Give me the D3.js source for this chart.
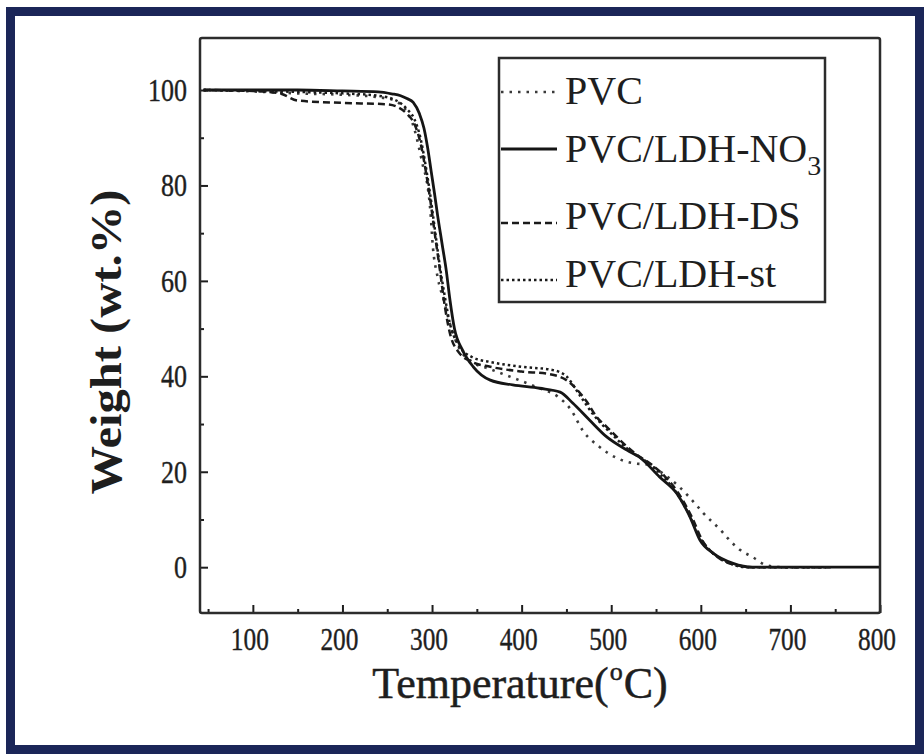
<!DOCTYPE html>
<html><head><meta charset="utf-8">
<script src="https://cdn.jsdelivr.net/npm/d3@7"></script>
<style>body{margin:0;background:#fff}svg{display:block}</style>
</head><body>
<svg id="c" width="924" height="754"></svg>
<script>
// ---- data ----
const xTicks = [100, 200, 300, 400, 500, 600, 700, 800];
const xMinor = [50, 150, 250, 350, 450, 550, 650, 750];
const yTicks = [0, 20, 40, 60, 80, 100];
const yMinor = [10, 30, 50, 70, 90];

const pvcTemp   = [45, 100, 150, 200, 240, 258, 266, 273, 280, 286, 290, 294, 298, 301, 306, 314, 320, 330, 345, 365, 400, 420, 440, 455, 468, 487, 506, 524, 540, 555, 575, 597, 603, 622, 630, 644, 658, 672, 690, 740];
const pvcWeight = [100, 99.7, 99.3, 99, 98.5, 97.8, 96.8, 95.2, 92, 87.4, 84, 81, 75, 67, 61, 55.3, 51, 46, 43, 41.5, 39, 37.5, 35.8, 33, 28.7, 25.2, 22.9, 21.8, 21.5, 20, 17, 12.6, 11.3, 7.8, 6.1, 3.6, 2.1, 0.5, 0, 0];

const no3Temp   = [45, 100, 150, 200, 240, 255, 265, 272, 279, 286, 291, 295, 299, 303, 306, 311, 316, 320, 325, 334, 346, 365, 390, 420, 443, 457, 476, 495, 518, 532, 554, 573, 588, 599, 614, 636, 658, 700, 800];
const no3Weight = [100, 100, 100, 99.8, 99.6, 99.2, 98.8, 98.2, 97.4, 95, 92, 88, 83, 78, 74, 68, 62, 56, 50, 45.5, 42, 39.2, 38.2, 37.5, 36.7, 34.4, 30.8, 27.3, 24.5, 23, 18.9, 15.5, 10.5, 5.7, 2.9, 0.8, 0, 0, 0];

const dsTemp   = [45, 100, 130, 150, 200, 250, 262, 272, 280, 287, 293, 298, 303, 309, 314, 320, 330, 345, 365, 400, 430, 450, 473, 484, 495, 518, 529, 545, 560, 575, 590, 602, 616, 638, 660, 745];
const dsWeight = [100, 99.8, 99.3, 97.8, 97.3, 97, 96.4, 95, 93, 89, 83, 77, 70, 62, 55, 49, 45, 43, 42, 41, 40.5, 39.2, 34.6, 31.4, 29.4, 25.2, 23.5, 21.5, 19, 15.5, 10.5, 5.5, 2.5, 0.5, 0, 0];

const stTemp   = [45, 150, 200, 240, 260, 272, 280, 287, 293, 298, 303, 308, 314, 320, 328, 345, 365, 400, 435, 450, 465, 480, 500, 520, 540, 555, 572, 587, 598, 612, 630, 650, 740];
const stWeight = [100, 99.6, 99.3, 98.8, 97.8, 96, 94, 90, 84, 78, 71, 64, 57, 51, 47, 44, 43, 42, 41.3, 40, 36, 32, 28, 24.5, 22, 19.5, 15.8, 11, 6.5, 3.2, 1, 0, 0];

const seriesNames = ["PVC", "PVC/LDH-NO3", "PVC/LDH-DS", "PVC/LDH-st"];

// ---- drawing ----
const svg = d3.select("#c");
svg.append("rect").attr("x", 0).attr("y", 0).attr("width", 924).attr("height", 754).attr("fill", "#fff");
svg.append("rect").attr("x", 10.5).attr("y", 11.5).attr("width", 909).attr("height", 738)
  .attr("fill", "none").attr("stroke", "#1b2658").attr("stroke-width", 9);

const x = d3.scaleLinear().domain([41, 800]).range([200, 880]);
const y = d3.scaleLinear().domain([-9.6, 110.9]).range([613, 38]);

const ink = "#1e1e1e";
const serif = "'Liberation Serif','DejaVu Serif',serif";

// ticks (inward)
const gx = svg.append("g").attr("transform", "translate(0,613)");
gx.call(d3.axisBottom(x).tickValues(xTicks).tickSizeInner(-8).tickSizeOuter(0).tickFormat(""));
const gxm = svg.append("g").attr("transform", "translate(0,613)");
gxm.call(d3.axisBottom(x).tickValues(xMinor).tickSizeInner(-4).tickSizeOuter(0).tickFormat(""));
const gy = svg.append("g").attr("transform", "translate(200,0)");
gy.call(d3.axisLeft(y).tickValues(yTicks).tickSizeInner(-8).tickSizeOuter(0).tickFormat(""));
const gym = svg.append("g").attr("transform", "translate(200,0)");
gym.call(d3.axisLeft(y).tickValues(yMinor).tickSizeInner(-4).tickSizeOuter(0).tickFormat(""));
[gx, gxm, gy, gym].forEach(g => {
  g.select(".domain").remove();
  g.selectAll("line").attr("stroke", ink).attr("stroke-width", 2);
});

// tick labels
svg.append("g").selectAll("text").data(xTicks).join("text")
  .attr("x", d => x(d) - 3).attr("y", 650)
  .attr("text-anchor", "middle")
  .attr("font-family", serif).attr("font-size", 31).attr("fill", ink)
  .attr("stroke", ink).attr("stroke-width", 0.4)
  .attr("textLength", 38).attr("lengthAdjust", "spacingAndGlyphs")
  .text(d => d);
svg.append("g").selectAll("text").data(yTicks).join("text")
  .attr("x", 187).attr("y", d => y(d) + 11)
  .attr("text-anchor", "end")
  .attr("font-family", serif).attr("font-size", 31).attr("fill", ink)
  .attr("stroke", ink).attr("stroke-width", 0.4)
  .attr("textLength", d => String(d).length * 13).attr("lengthAdjust", "spacingAndGlyphs")
  .text(d => d);

// curves
const line = d3.line().x(d => x(d[0])).y(d => y(d[1])).curve(d3.curveMonotoneX);
const zip = (a, b) => a.map((t, i) => [t, b[i]]);
const styles = [
  {data: zip(pvcTemp, pvcWeight), dash: "2.5,6", color: "#3a3a3a", w: 2.6},
  {data: zip(no3Temp, no3Weight), dash: null, color: "#151515", w: 2.8},
  {data: zip(dsTemp, dsWeight), dash: "7,4", color: "#1a1a1a", w: 2.5},
  {data: zip(stTemp, stWeight), dash: "2.5,3", color: "#1a1a1a", w: 2.5}
];
const plot = svg.append("g");
styles.forEach(s => {
  plot.append("path").datum(s.data).attr("d", line)
    .attr("fill", "none").attr("stroke", s.color).attr("stroke-width", s.w)
    .attr("stroke-dasharray", s.dash);
});

// frame
svg.append("rect").attr("x", x(41)).attr("y", y(110.9)).attr("width", x(800) - x(41)).attr("height", y(-9.6) - y(110.9))
  .attr("rx", 2).attr("fill", "none").attr("stroke", "#2c2c2c").attr("stroke-width", 2.5);

// legend
const lg = svg.append("g");
lg.append("rect").attr("x", 499).attr("y", 58).attr("width", 326).attr("height", 244)
  .attr("fill", "#fff").attr("stroke", "#2c2c2c").attr("stroke-width", 2.5);
const rowLine = [92, 149, 223, 280];
const rowText = [104, 162, 229, 287];
seriesNames.forEach((n, i) => {
  lg.append("line").attr("x1", 501).attr("x2", 557).attr("y1", rowLine[i]).attr("y2", rowLine[i])
    .attr("stroke", styles[i].color).attr("stroke-width", styles[i].w).attr("stroke-dasharray", styles[i].dash);
  const t = lg.append("text").attr("x", 565).attr("y", rowText[i])
    .attr("font-family", serif).attr("font-size", 40).attr("fill", ink);
  if (n.endsWith("NO3")) {
    t.append("tspan").text(n.slice(0, -1));
    t.append("tspan").attr("font-size", 28).attr("dy", 13).text("3");
  } else {
    t.text(n);
  }
});

// axis titles
const xt = svg.append("text").attr("x", 520).attr("y", 698).attr("text-anchor", "middle")
  .attr("font-family", serif).attr("font-size", 44).attr("fill", ink)
  .attr("stroke", ink).attr("stroke-width", 0.5);
xt.append("tspan").text("Temperature(");
xt.append("tspan").attr("font-size", 26).attr("dy", -18).attr("dx", 1).text("o");
xt.append("tspan").attr("dy", 18).attr("dx", 1).text("C)");

svg.append("text").attr("transform", "translate(121,342) rotate(-90)")
  .attr("text-anchor", "middle")
  .attr("font-family", serif).attr("font-size", 44).attr("font-weight", "bold").attr("fill", ink)
  .attr("textLength", 305).attr("lengthAdjust", "spacingAndGlyphs")
  .text("Weight (wt.%)");
</script>
</body></html>
